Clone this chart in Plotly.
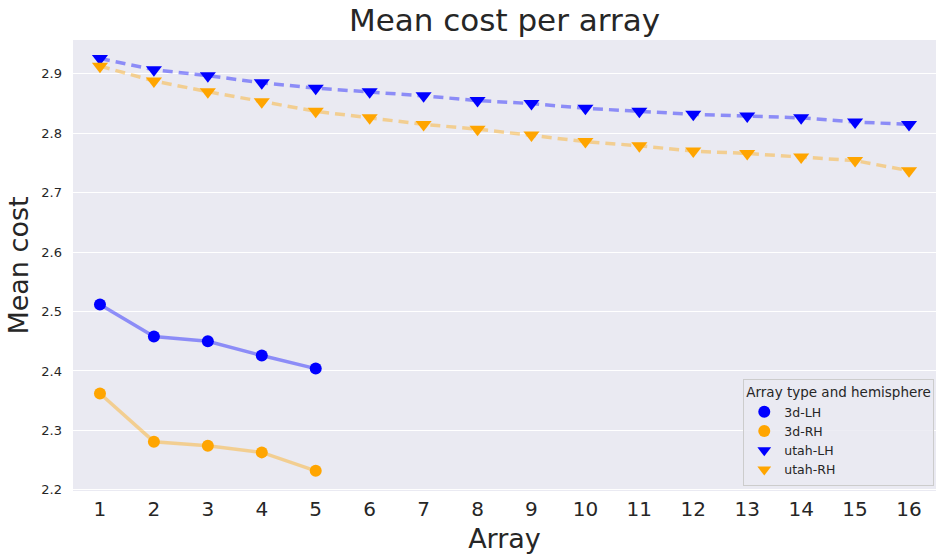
import plotly.graph_objects as go

arrays = list(range(1, 17))
arrays_3d = [1, 2, 3, 4, 5]
lh_3d = [2.512, 2.458, 2.450, 2.426, 2.404]
rh_3d = [2.362, 2.281, 2.274, 2.263, 2.232]
lh_utah = [2.926, 2.907, 2.897, 2.885, 2.876, 2.870, 2.863, 2.855,
           2.850, 2.842, 2.837, 2.832, 2.829, 2.826, 2.819, 2.815]
rh_utah = [2.913, 2.888, 2.870, 2.853, 2.837, 2.826, 2.815, 2.807,
           2.797, 2.786, 2.779, 2.770, 2.766, 2.760, 2.754, 2.737]
x_ticks = [str(i) for i in arrays]
y_ticks = [2.2, 2.3, 2.4, 2.5, 2.6, 2.7, 2.8, 2.9]

BLUE = "#0000FF"
ORANGE = "#FFA500"
BLUE_L = "rgba(0,0,255,0.4)"
ORANGE_L = "rgba(255,165,0,0.4)"

fig = go.Figure()

def add_series(x, y, name, color, lcolor, symbol, dash):
    fig.add_trace(go.Scatter(x=x, y=y, mode="lines", line=dict(color=lcolor, width=3.5, dash=dash),
                             showlegend=False, hoverinfo="skip"))
    fig.add_trace(go.Scatter(x=x, y=y, mode="markers", name=name,
                             marker=dict(color=color, size=12 if symbol == "circle" else 14,
                                         symbol=symbol, line=dict(width=0)),
                             showlegend=True))

add_series(arrays_3d, lh_3d, "3d-LH", BLUE, BLUE_L, "circle", "solid")
add_series(arrays_3d, rh_3d, "3d-RH", ORANGE, ORANGE_L, "circle", "solid")
add_series(arrays, lh_utah, "utah-LH", BLUE, BLUE_L, "triangle-down", "10px,6px")
add_series(arrays, rh_utah, "utah-RH", ORANGE, ORANGE_L, "triangle-down", "10px,6px")

fig.update_layout(
    width=937, height=558,
    margin=dict(l=73, r=1, t=40, b=67),
    paper_bgcolor="white",
    plot_bgcolor="#EAEAF2",
    font=dict(family="DejaVu Sans", color="#262626"),
    title=dict(text="Mean cost per array", x=0.5, xref="paper", xanchor="center",
               y=0.964, yanchor="middle", font=dict(size=31, color="#262626")),
    xaxis=dict(range=[0.5, 16.5], tickmode="array", tickvals=arrays, ticktext=x_ticks,
               showgrid=False, zeroline=False, tickfont=dict(size=20, color="#262626"),
               ticklabelstandoff=4,
               title=dict(text="Array", font=dict(size=27, color="#262626"), standoff=9),
               ticks="", ticklen=0),
    yaxis=dict(range=[2.198, 2.957], tickmode="array",
               tickvals=y_ticks, ticktext=[f"{v:.1f}" for v in y_ticks],
               showgrid=True, gridcolor="white", gridwidth=1.2, zeroline=False,
               tickfont=dict(size=13, color="#262626"), ticklabelstandoff=10,
               title=dict(text="Mean cost", font=dict(size=27, color="#262626"), standoff=4),
               ticks="", ticklen=0),
    legend=dict(title=dict(text="Array type and hemisphere", font=dict(size=13.5, color="#262626")),
                x=0.998, xanchor="right", y=0.012, yanchor="bottom",
                bgcolor="rgba(234,234,242,0.85)", bordercolor="#CCCCCC", borderwidth=1,
                font=dict(size=12.5, color="#262626"), itemsizing="constant"),
)

fig.write_html("out.html")
